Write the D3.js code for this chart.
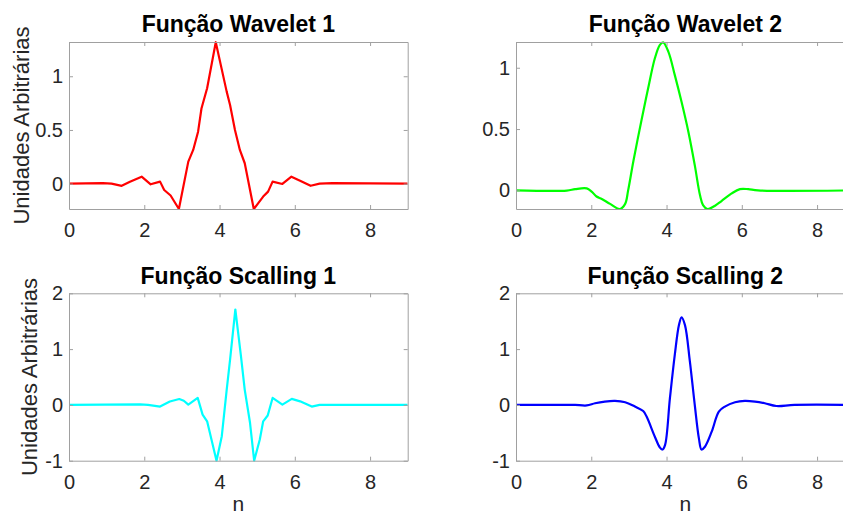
<!DOCTYPE html>
<html><head><meta charset="utf-8">
<script src="https://cdn.jsdelivr.net/npm/d3@7"></script>
<style>
body{margin:0;background:#fff}
svg{display:block}
</style>
</head><body>
<svg id="c" width="843" height="516"></svg>
<script>
// ---------- data ----------
const xTicks = [0, 2, 4, 6, 8];

const wavelet1N = [0, 0.9, 1.13, 1.40, 1.62, 1.93, 2.17, 2.42, 2.53, 2.70, 2.92, 3.17, 3.30, 3.43, 3.52, 3.67, 3.90, 4.19, 4.28, 4.41, 4.54, 4.67, 4.91, 5.16, 5.29, 5.41, 5.67, 5.91, 6.14, 6.42, 6.66, 7.0, 9];
const wavelet1Y = [0, 0.005, 0, -0.02, 0.017, 0.065, -0.006, 0.019, -0.059, -0.11, -0.236, 0.205, 0.314, 0.484, 0.70, 0.888, 1.317, 0.857, 0.733, 0.5, 0.314, 0.19, -0.236, -0.12, -0.074, 0.019, -0.003, 0.065, 0.028, -0.02, 0, 0.005, 0];

const wavelet2N = [0, 1.35, 1.57, 1.88, 2.01, 2.14, 2.28, 2.50, 2.76, 2.90, 2.98, 3.12, 3.34, 3.51, 3.69, 3.82, 3.91, 4.05, 4.22, 4.40, 4.58, 4.75, 4.89, 4.97, 5.09, 5.29, 5.46, 5.73, 5.95, 6.17, 6.43, 9];
const wavelet2Y = [0, -0.002, 0.01, 0.016, -0.01, -0.05, -0.07, -0.11, -0.152, -0.11, 0.0, 0.24, 0.58, 0.83, 1.077, 1.185, 1.207, 1.13, 0.94, 0.72, 0.478, 0.206, -0.04, -0.12, -0.152, -0.125, -0.087, -0.025, 0.01, 0.01, 0, 0];

const scaling1N = [0, 1.89, 2.10, 2.42, 2.68, 2.93, 3.05, 3.17, 3.42, 3.55, 3.67, 3.92, 4.06, 4.19, 4.28, 4.42, 4.57, 4.67, 4.81, 4.92, 5.07, 5.16, 5.28, 5.41, 5.67, 5.92, 6.14, 6.45, 6.66, 9];
const scaling1Y = [0, 0.01, 0, -0.03, 0.06, 0.105, 0.075, 0.005, 0.125, -0.174, -0.294, -1.0, -0.56, 0.27, 0.81, 1.71, 0.87, 0.27, -0.32, -1.0, -0.62, -0.294, -0.19, 0.125, 0.005, 0.107, 0.064, -0.03, 0, 0];

const scaling2N = [0, 1.35, 1.57, 1.88, 2.10, 2.36, 2.63, 2.90, 3.16, 3.38, 3.47, 3.69, 3.82, 3.89, 3.96, 4.09, 4.22, 4.33, 4.40, 4.49, 4.62, 4.75, 4.86, 4.93, 5.02, 5.20, 5.39, 5.55, 5.82, 6.08, 6.35, 6.61, 6.92, 7.4, 9];
const scaling2Y = [0, 0, 0, -0.01, 0.03, 0.06, 0.072, 0.048, -0.03, -0.11, -0.21, -0.57, -0.76, -0.80, -0.72, 0.12, 0.90, 1.43, 1.57, 1.43, 0.78, 0.0, -0.60, -0.80, -0.75, -0.48, -0.12, -0.03, 0.048, 0.072, 0.06, 0.03, -0.02, 0, 0];

const titles = ["Função Wavelet 1", "Função Wavelet 2", "Função Scalling 1", "Função Scalling 2"];
const yTicksTop = [0, 0.5, 1];
const yTicksBottom = [-1, 0, 1, 2];
const yLabelText = "Unidades Arbitrárias";
const xLabelText = "n";

// ---------- layout ----------
const FONT = '"Liberation Sans", Arial, Helvetica, sans-serif';
const AXIS = "#a0a0a0", TXT = "#262626";
const plotW = 338.7;
const panels = [
  {title: titles[0], n: wavelet1N, y: wavelet1Y, color: "#ff0000", yDom: [-0.236, 1.319], yTicks: yTicksTop,
   left: 69, top: 42, h: 167, curve: d3.curveLinear, yLab: 28.5, xLab: false, titleY: 32},
  {title: titles[1], n: wavelet2N, y: wavelet2Y, color: "#00ff00", yDom: [-0.152, 1.21], yTicks: yTicksTop,
   left: 516, top: 42, h: 167, curve: d3.curveCatmullRom.alpha(0.5), yLab: null, xLab: false, titleY: 32},
  {title: titles[2], n: scaling1N, y: scaling1Y, color: "#00ffff", yDom: [-1, 2], yTicks: yTicksBottom,
   left: 69, top: 293.3, h: 167.4, curve: d3.curveLinear, yLab: 36.7, xLab: true, titleY: 284},
  {title: titles[3], n: scaling2N, y: scaling2Y, color: "#0000ff", yDom: [-1, 2], yTicks: yTicksBottom,
   left: 516, top: 293.3, h: 167.4, curve: d3.curveCatmullRom.alpha(0.5), yLab: null, xLab: true, titleY: 284}
];

const svg = d3.select("#c");
const fmt = d => String(d);

function styleAxis(g, showText) {
  g.attr("font-family", FONT).attr("font-size", 20);
  g.select(".domain").attr("stroke", AXIS).attr("stroke-width", 1);
  g.selectAll(".tick line").attr("stroke", AXIS);
  g.selectAll(".tick text").attr("fill", TXT);
  if (!showText) g.selectAll(".tick text").remove();
}

panels.forEach((p, i) => {
  const x = d3.scaleLinear().domain([0, 9]).range([0, plotW]);
  const y = d3.scaleLinear().domain(p.yDom).range([p.h, 0]);
  const g = svg.append("g").attr("transform", `translate(${p.left},${p.top})`);

  g.append("clipPath").attr("id", "clip" + i)
    .append("rect").attr("x", 0).attr("y", -1).attr("width", plotW).attr("height", p.h + 2);

  const pts = p.n.map((v, k) => [v, p.y[k]]);
  const line = d3.line().x(d => x(d[0])).y(d => y(d[1])).curve(p.curve);
  g.append("path").datum(pts)
    .attr("clip-path", `url(#clip${i})`)
    .attr("fill", "none").attr("stroke", p.color).attr("stroke-width", 2.2)
    .attr("stroke-linejoin", "round").attr("d", line);

  // axes (box with inward ticks)
  g.append("g").attr("transform", `translate(0,${p.h})`)
    .call(d3.axisBottom(x).tickValues(xTicks).tickFormat(fmt).tickSizeInner(-4).tickSizeOuter(0).tickPadding(14))
    .call(a => styleAxis(a, true));
  g.append("g")
    .call(d3.axisTop(x).tickValues(xTicks).tickSizeInner(-4).tickSizeOuter(0))
    .call(a => styleAxis(a, false));
  g.append("g")
    .call(d3.axisLeft(y).tickValues(p.yTicks).tickFormat(fmt).tickSizeInner(-4).tickSizeOuter(0).tickPadding(6))
    .call(a => styleAxis(a, true));
  g.append("g").attr("transform", `translate(${plotW},0)`)
    .call(d3.axisRight(y).tickValues(p.yTicks).tickSizeInner(-4).tickSizeOuter(0))
    .call(a => styleAxis(a, false));

  // title
  svg.append("text").attr("x", p.left + plotW / 2).attr("y", p.titleY)
    .attr("text-anchor", "middle").attr("font-family", FONT).attr("font-size", 23)
    .attr("font-weight", "bold").attr("fill", "#000").text(p.title);

  if (p.yLab !== null) {
    svg.append("text")
      .attr("transform", `translate(${p.yLab},${p.top + p.h / 2}) rotate(-90)`)
      .attr("text-anchor", "middle").attr("font-family", FONT).attr("font-size", 22)
      .attr("fill", TXT).text(yLabelText);
  }
  if (p.xLab) {
    svg.append("text").attr("x", p.left + plotW / 2).attr("y", 511)
      .attr("text-anchor", "middle").attr("font-family", FONT).attr("font-size", 21)
      .attr("fill", TXT).text(xLabelText);
  }
});
</script>
</body></html>
